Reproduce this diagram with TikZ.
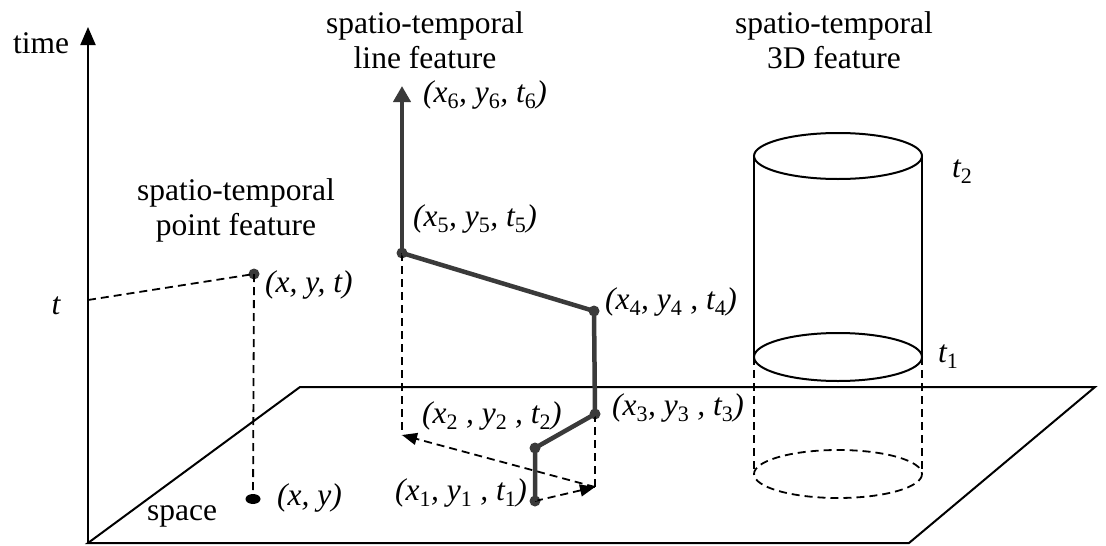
\documentclass[tikz,border=0pt]{standalone}
\usepackage{fontspec}
\setmainfont{Liberation Serif}
\usetikzlibrary{arrows.meta,shapes.geometric}
\definecolor{dgray}{RGB}{58,58,58}
\newcommand\sbs[1]{\textsubscript{\upshape #1}}
\begin{document}
\begin{tikzpicture}[x=1pt,y=-1pt,
  font=\fontsize{31.5}{35}\selectfont,
  base/.style={line width=2pt, black},
  dsh/.style={line width=1.8pt, black, dash pattern=on 8pt off 5pt},
  thk/.style={line width=4.5pt, draw=dgray, line join=round},
  dotn/.style={circle, fill=dgray, inner sep=0pt, minimum size=11pt},
  lab/.style={inner sep=0pt, font=\fontsize{31.5}{35}\selectfont\itshape},
  ttl/.style={inner sep=0pt, align=center},
  darr/.style={-{Triangle[length=15pt,width=12pt]}}]
\useasboundingbox (0,0) rectangle (1106,546);
% axes and plane
\coordinate (o) at (88,543);
\coordinate (ttop) at (88,27);
\coordinate (p1) at (300,387);
\coordinate (p2) at (1095,387);
\coordinate (p3) at (909,543);
\draw[base] (o) -- (p1) -- (p2) -- (p3) -- cycle;
\draw[base, -{Triangle[length=18pt,width=15pt]}] (o) -- (ttop);
\node[inner sep=0pt, anchor=base west] (time) at (13,53) {time};
\node[lab] (tl) at (56,306) {t};
\node[inner sep=0pt, anchor=base] (space) at (182,520) {space};
% point feature
\node[ttl] (ptitle) at (236,210) {spatio-temporal\\point feature};
\coordinate (tt) at (88,300);
\node[dotn] (pt) at (254,274) {};
\node[ellipse, fill=black, minimum width=15pt, minimum height=10pt, inner sep=0pt] (pg) at (253,499) {};
\draw[dsh] (tt) -- (pt.center);
\draw[dsh] (pt.center) -- (pg.center);
\node[lab, anchor=mid west] (lpt) at (265,290) {(x, y, t)};
\node[lab, anchor=mid west] (lpg) at (277,503) {(x, y)};
% line feature
\node[ttl] (ltitle) at (425,40) {spatio-temporal\\line feature};
\coordinate (tip) at (402,86);
\node[dotn] (d5) at (402,253) {};
\node[dotn] (d4) at (594,311) {};
\node[dotn] (d3) at (595,414) {};
\node[dotn] (d2) at (535,448) {};
\node[dotn] (d1) at (535,501) {};
\coordinate (g5) at (402,435);
\coordinate (g3) at (595,487);
\draw[dsh] (d5.center) -- (g5);
\draw[dsh] (d3.center) -- (g3);
\draw[dsh, darr] (d1.center) -- (g3);
\draw[dsh, darr] (g3) -- (g5);
\draw[thk] (d1.center) -- (d2.center) -- (d3.center) -- (d4.center) -- (d5.center);
\draw[thk, -{Triangle[length=16pt,width=17pt]}] (d5.center) -- (tip);
\node[lab, anchor=mid west] (l6) at (423,100) {(x\sbs{6}, y\sbs{6}, t\sbs{6})};
\node[lab, anchor=mid west] (l5) at (413,224) {(x\sbs{5}, y\sbs{5}, t\sbs{5})};
\node[lab, anchor=mid west] (l4) at (605,307) {(x\sbs{4}, y\sbs{4} , t\sbs{4})};
\node[lab, anchor=mid west] (l3) at (612,413) {(x\sbs{3}, y\sbs{3} , t\sbs{3})};
\node[lab, anchor=mid west] (l2) at (422,421) {(x\sbs{2} , y\sbs{2} , t\sbs{2})};
\node[lab, anchor=mid east] (l1) at (527,498) {(x\sbs{1}, y\sbs{1} , t\sbs{1})};
% 3D feature
\node[ttl] (ctitle) at (834,40) {spatio-temporal\\3D feature};
\draw[base] (838,156) ellipse [x radius=84, y radius=23];
\draw[base] (754,156) -- (754,357);
\draw[base] (922,156) -- (922,357);
\draw[base] (838,357) ellipse [x radius=84, y radius=24];
\draw[dsh] (754,357) -- (754,474);
\draw[dsh] (922,357) -- (922,474);
\draw[dsh] (838,474) ellipse [x radius=84, y radius=24];
\node[lab, anchor=mid west] (lt2) at (952,175) {t\sbs{2}};
\node[lab, anchor=mid west] (lt1) at (938,360) {t\sbs{1}};
\end{tikzpicture}
\end{document}
